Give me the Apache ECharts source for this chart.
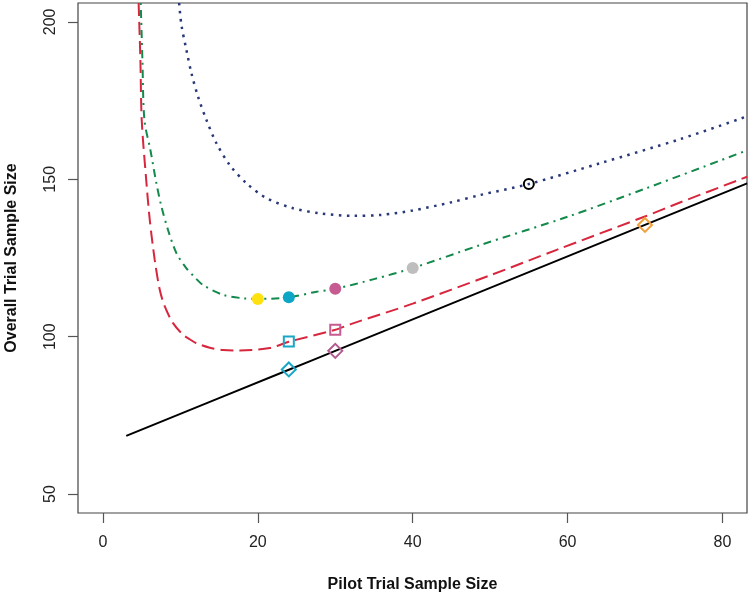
<!DOCTYPE html>
<html>
<head>
<meta charset="utf-8">
<script src="https://cdn.jsdelivr.net/npm/echarts@6/dist/echarts.min.js"></script>
<style>
html,body{margin:0;padding:0;background:#fff;}
#chart{width:750px;height:595px;}
</style>
</head>
<body>
<div id="chart"></div>
<script>
// Tick labels
var xTicks = [0, 20, 40, 60, 80];
var yTicks = [50, 100, 150, 200];

// Curves: [pilot size, overall size]
var blackLine = [[3, 68.5], [24, 89.5], [30, 95.5], [70, 135.5], [83.2, 148.7]];
var redDashed = [[4.6, 206], [4.83, 187.9], [5.0, 168.8], [5.56, 150.4], [6.04, 137.1], [6.68, 124.4], [7.33, 114.9], [7.98, 109.6], [9.05, 104.3], [10.34, 100.6], [11.2, 99.2], [12.0, 98.0], [13.79, 96.5], [15.5, 95.8], [17.67, 95.6], [21.55, 96.4], [24, 98.4], [30, 102.2], [32, 104.0], [40, 110.5], [50, 119.5], [58.6, 127.6], [70, 138.2], [74.6, 142.7], [83.2, 150.8]];
var greenDotDash = [[4.87, 206], [5.09, 187.9], [5.35, 168.8], [6.12, 159.3], [6.9, 148.7], [7.55, 141.3], [8.4, 133.9], [9.49, 126.5], [10.78, 121.7], [11.6, 119.5], [12.93, 116.4], [15.51, 113.3], [18.1, 112.2], [20, 112.0], [24, 112.5], [27.6, 114.3], [30, 115.2], [35, 118.3], [40, 121.8], [48.7, 129.1], [60, 138.1], [70, 147.0], [83.2, 159.2]];
var blueDotted = [[9.83, 206], [10.13, 199], [10.78, 191.0], [11.43, 183.6], [12.28, 176.2], [13.37, 168.8], [14.66, 161.4], [16.38, 154.5], [18.54, 148.7], [21.12, 144.0], [24.56, 140.8], [28.0, 139.2], [32.3, 138.4], [36, 138.7], [40, 140.1], [45, 142.7], [48.7, 145.0], [55, 148.5], [64.2, 155.1], [74.6, 162.8], [83.2, 170.0]];

// Markers
var filledYellow = [[20, 112.0]];
var filledCyan = [[24, 112.5]];
var filledMagenta = [[30, 115.2]];
var filledGray = [[40, 121.8]];
var openCircleBlack = [[55, 148.5]];
var squareCyan = [[24, 98.5]];
var squareMagenta = [[30, 102.2]];
var diamondCyan = [[24, 89.6]];
var diamondMagenta = [[30, 95.5]];
var diamondOrange = [[70, 135.5]];

var FONT = '"Liberation Sans", Arial, Helvetica, sans-serif';

function lineSeries(data, color, type, width) {
  return {
    type: 'line', data: data, smooth: 0.3, symbol: 'none', clip: true,
    lineStyle: { color: color, width: width || 2, type: type, cap: 'butt' },
    z: 2, silent: true, animation: false
  };
}
function pointSeries(data, symbol, size, fill, stroke) {
  return {
    type: 'scatter', data: data, symbol: symbol, symbolSize: size,
    itemStyle: { color: fill, borderColor: stroke, borderWidth: fill === 'transparent' ? 2 : 0, opacity: 1 },
    z: 5, silent: true, animation: false
  };
}

var chart = echarts.init(document.getElementById('chart'), null, { renderer: 'canvas' });
chart.setOption({
  backgroundColor: '#ffffff',
  animation: false,
  grid: { left: 78, right: 3, top: 3, bottom: 82, show: true, borderColor: '#444', borderWidth: 1.2, backgroundColor: 'transparent', containLabel: false, outerBoundsMode: 'none' },
  xAxis: {
    type: 'value', min: -3.23, max: 83.18,
    name: 'Pilot Trial Sample Size', nameLocation: 'middle', nameGap: 64,
    nameTextStyle: { fontFamily: FONT, fontWeight: 'bold', fontSize: 16, color: '#111' },
    axisLine: { show: false, onZero: false },
    axisTick: { show: true, length: 10, inside: false, customValues: xTicks, lineStyle: { color: '#555', width: 1.2 } },
    axisLabel: { customValues: xTicks, margin: 22, fontFamily: FONT, fontSize: 16, color: '#222' },
    splitLine: { show: false }
  },
  yAxis: {
    type: 'value', min: 44, max: 206,
    name: 'Overall Trial Sample Size', nameLocation: 'middle', nameGap: 58,
    nameTextStyle: { fontFamily: FONT, fontWeight: 'bold', fontSize: 16, color: '#111' },
    axisLine: { show: false, onZero: false },
    axisTick: { show: true, length: 10, inside: false, customValues: yTicks, lineStyle: { color: '#555', width: 1.2 } },
    axisLabel: { customValues: yTicks, margin: 19, rotate: 90, fontFamily: FONT, fontSize: 16, color: '#222' },
    splitLine: { show: false }
  },
  series: [
    lineSeries(blackLine, '#000000', 'solid'),
    lineSeries(redDashed, '#D7263D', [13, 6]),
    lineSeries(greenDotDash, '#138A4B', [2, 5, 8, 5]),
    lineSeries(blueDotted, '#283878', [2.5, 5.5], 2.5),
    pointSeries(filledYellow, 'circle', 12, '#FFE10F', '#FFE10F'),
    pointSeries(filledCyan, 'circle', 12, '#0DA6C7', '#0DA6C7'),
    pointSeries(filledMagenta, 'circle', 12, '#C65B92', '#C65B92'),
    pointSeries(filledGray, 'circle', 12, '#BEBEBE', '#BEBEBE'),
    pointSeries(openCircleBlack, 'circle', 10, 'transparent', '#000000'),
    pointSeries(squareCyan, 'rect', 10, 'transparent', '#1AA6C6'),
    pointSeries(squareMagenta, 'rect', 10, 'transparent', '#C65B92'),
    pointSeries(diamondCyan, 'diamond', 14, 'transparent', '#1AA6C6'),
    pointSeries(diamondMagenta, 'diamond', 14, 'transparent', '#B35A8F'),
    pointSeries(diamondOrange, 'diamond', 14, 'transparent', '#F2A03A')
  ]
});
</script>
</body>
</html>
